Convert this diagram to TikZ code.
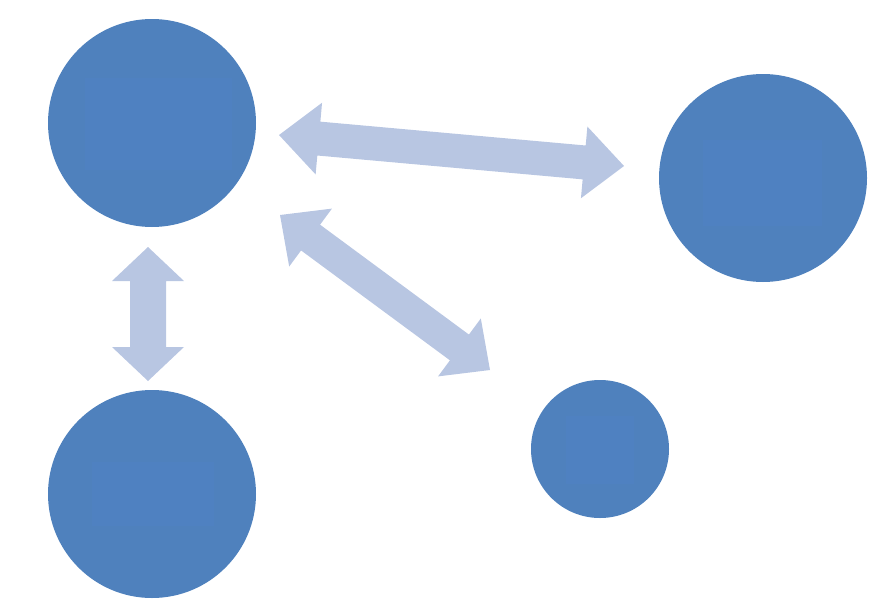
\documentclass[tikz,border=0pt]{standalone}
\usetikzlibrary{calc}
\definecolor{circblue}{HTML}{4F81BD}
\definecolor{sqblue}{HTML}{4F81C1}
\definecolor{arrowblue}{HTML}{B8C6E2}
\tikzset{
  bubble/.style={circle, fill=circblue, draw=none, inner sep=0pt},
  innersq/.style={fill=sqblue, draw=none},
  blockarrow/.style={fill=arrowblue, draw=none}
}
\newcommand{\dblarrow}[5]{% #1 A, #2 B, #3 half shaft, #4 half head, #5 head length
  \coordinate (pa) at ($(#1)!#5!(#2)$);
  \coordinate (pb) at ($(#2)!#5!(#1)$);
  \fill[blockarrow] (#1)
    -- ($(pa)!#4!90:(#2)$) -- ($(pa)!#3!90:(#2)$)
    -- ($(pb)!#3!-90:(#1)$) -- ($(pb)!#4!-90:(#1)$)
    -- (#2)
    -- ($(pb)!#4!90:(#1)$) -- ($(pb)!#3!90:(#1)$)
    -- ($(pa)!#3!-90:(#2)$) -- ($(pa)!#4!-90:(#2)$)
    -- cycle;
}
\begin{document}
\begin{tikzpicture}[x=1pt,y=-1pt]
\useasboundingbox (0,0) rectangle (874,605);
% circles
\node[bubble, minimum size=208pt] (c1) at (152,123) {};
\node[bubble, minimum size=208pt] (c2) at (763,178) {};
\node[bubble, minimum size=208pt] (c3) at (152,494) {};
\node[bubble, minimum size=138pt] (c4) at (600,449) {};
\fill[innersq] (85,78) rectangle (232,170);
\fill[innersq] (703,140) rectangle (822,226);
\fill[innersq] (92,462) rectangle (214,526);
\fill[innersq] (566,416) rectangle (634,484);
% arrow endpoints
\coordinate (a1) at (279,135);
\coordinate (b1) at (624,166);
\coordinate (a2) at (280,215);
\coordinate (b2) at (490,370);
\coordinate (a3) at (148,247);
\coordinate (b3) at (148,381);
\dblarrow{a1}{b1}{17pt}{36pt}{40pt}
\dblarrow{a2}{b2}{16pt}{36pt}{38pt}
\dblarrow{a3}{b3}{18pt}{36pt}{34pt}
\end{tikzpicture}
\end{document}
